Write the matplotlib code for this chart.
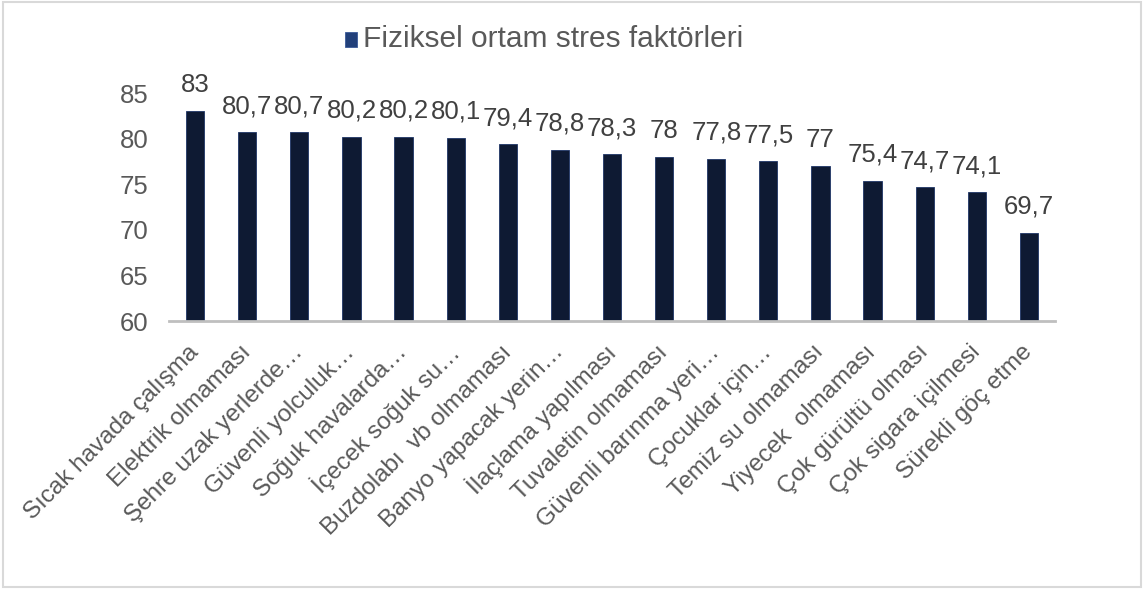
import numpy as np
import matplotlib.pyplot as plt
from matplotlib.patches import Rectangle

# Fiziksel ortam stres faktörleri
kategoriler = ["Sıcak havada çalışma", "Elektrik olmaması", "Şehre uzak yerlerde…",
               "Güvenli yolculuk…", "Soğuk havalarda…", "İçecek soğuk su…",
               "Buzdolabı  vb olmaması", "Banyo yapacak yerin…", "İlaçlama yapılması",
               "Tuvaletin olmaması", "Güvenli barınma yeri…", "Çocuklar için…",
               "Temiz su olmaması", "Yiyecek  olmaması", "Çok gürültü olması",
               "Çok sigara içilmesi", "Sürekli göç etme"]
degerler = [83, 80.7, 80.7, 80.2, 80.2, 80.1, 79.4, 78.8, 78.3, 78, 77.8, 77.5,
            77, 75.4, 74.7, 74.1, 69.7]
seri_adi = "Fiziksel ortam stres faktörleri"
yticks = [60, 65, 70, 75, 80, 85]

plt.rcParams['font.family'] = ['Liberation Sans', 'DejaVu Sans']
gri = "#595959"

fig = plt.figure(figsize=(11.46, 5.89), dpi=100)
ax = fig.add_axes([0.1475, 0.455, 0.9206 - 0.1475, 0.842 - 0.455])

x = np.arange(len(kategoriler))
ax.bar(x, degerler, width=0.35, color="#0e1a33", edgecolor="#1f3566",
       linewidth=0.6, label=seri_adi, zorder=2)

for xi, v in zip(x, degerler):
    etiket = f"{v:g}".replace(".", ",")
    ax.annotate(etiket, (xi, v), xytext=(0, 10), textcoords="offset points",
                ha="center", va="bottom", fontsize=18.5, color="#404040")

ax.set_xlim(-0.5, len(kategoriler) - 0.5)
ax.set_ylim(60, 85)
ax.set_yticks(yticks)
ax.set_yticklabels([str(t) for t in yticks], fontsize=18.5, color=gri)
ax.set_xticks(x)
ax.set_xticklabels(kategoriler, rotation=45, ha="right", va="center",
                   rotation_mode="anchor", fontsize=17.5, color=gri)
ax.tick_params(axis="both", length=0)
ax.tick_params(axis="x", pad=20)
ax.tick_params(axis="y", pad=15)

for s in ["top", "right", "left"]:
    ax.spines[s].set_visible(False)
ax.spines["bottom"].set_color("#bfbfbf")
ax.spines["bottom"].set_linewidth(2)

# legend
fig.patches.append(Rectangle((345 / 1146, 1 - 47 / 589), 12 / 1146, 15 / 589,
                             transform=fig.transFigure, facecolor="#22407a",
                             edgecolor="#3a5a9a", linewidth=0.6))
fig.text(363 / 1146, 1 - 39 / 589, seri_adi, fontsize=21.5, color=gri,
         ha="left", va="center")

fig.patches.append(Rectangle((0.003, 0.003), 0.993, 0.994, transform=fig.transFigure,
                             fill=False, edgecolor="#d9d9d9", linewidth=1.5))

fig.savefig("out.png", dpi=100)
